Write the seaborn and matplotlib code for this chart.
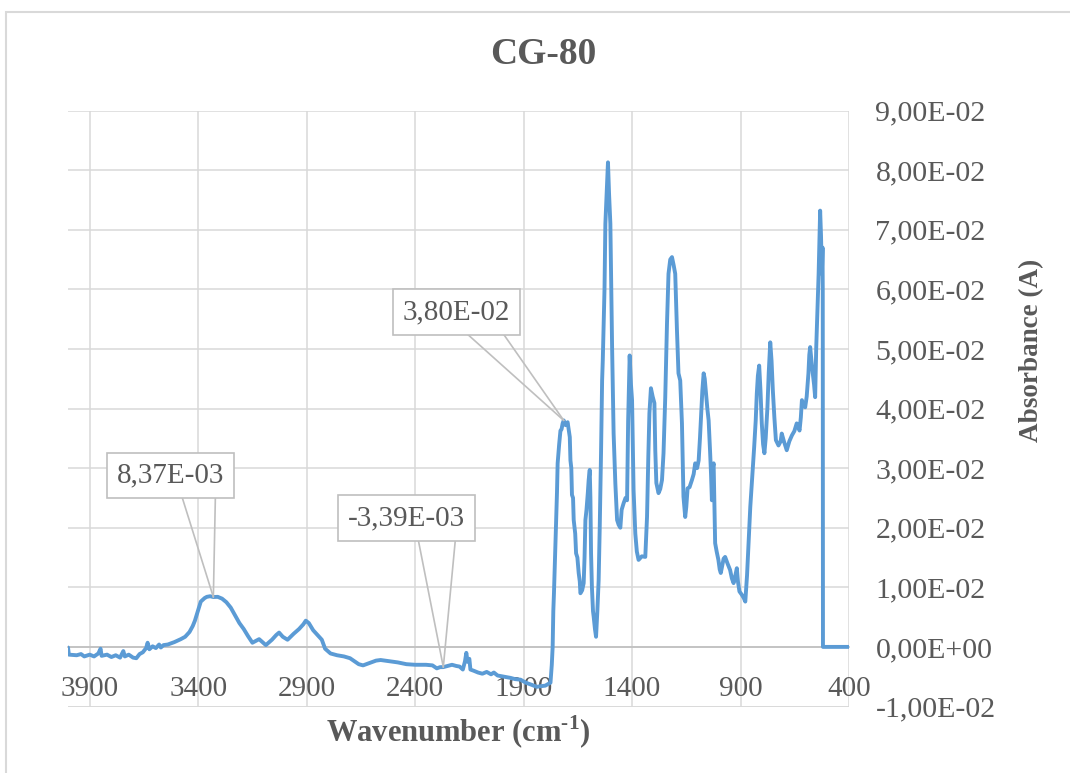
import matplotlib
matplotlib.use("Agg")
import matplotlib.pyplot as plt
import matplotlib.ticker as mticker
from matplotlib.patches import Rectangle
import seaborn as sns
import pandas as pd

# ---------------- data ----------------
wavenumber = [
    4000, 3996, 3960, 3940, 3925, 3900, 3880, 3860, 3850, 3845, 3820, 3800, 3780, 3760, 3745, 3738,
    3720, 3700, 3685, 3670, 3655, 3640, 3633, 3625, 3610, 3595, 3580, 3572, 3560, 3540, 3510, 3480,
    3460, 3440, 3425, 3415, 3400, 3388, 3370, 3360, 3345, 3330, 3310, 3290, 3270, 3250, 3230, 3210,
    3190, 3170, 3150, 3135, 3119, 3100, 3088, 3060, 3040, 3027, 3010, 2988, 2960, 2935, 2915, 2904,
    2890, 2870, 2850, 2830, 2815, 2790, 2760, 2728, 2700, 2680, 2660, 2640, 2610, 2580, 2559, 2520,
    2480, 2440, 2400, 2350, 2320, 2300, 2285, 2270, 2250, 2230, 2210, 2195, 2180, 2170, 2164, 2158,
    2150, 2145, 2130, 2110, 2090, 2070, 2050, 2037, 2020, 1990, 1960, 1940, 1914, 1890, 1860, 1840,
    1822, 1800, 1785, 1776, 1770, 1766, 1763, 1760, 1755, 1749, 1746, 1743, 1736, 1730, 1725, 1720,
    1715, 1706, 1697, 1690, 1687, 1684, 1680, 1677, 1672, 1669, 1662, 1658, 1652, 1646, 1641, 1638,
    1630, 1623, 1619, 1615, 1610, 1604, 1600, 1595, 1592, 1589, 1585, 1580, 1577, 1571, 1566, 1560,
    1554, 1549, 1543, 1538, 1535, 1531, 1527, 1523, 1517, 1511, 1506, 1500, 1496, 1492, 1485, 1477,
    1469, 1462, 1454, 1448, 1439, 1430, 1423, 1418, 1411, 1405, 1400, 1393, 1385, 1378, 1370, 1355,
    1339, 1331, 1325, 1320, 1313, 1305, 1297, 1293, 1288, 1278, 1270, 1262, 1255, 1247, 1239, 1232,
    1224, 1216, 1208, 1201, 1193, 1186, 1178, 1170, 1163, 1155, 1150, 1144, 1135, 1124, 1116, 1109,
    1100, 1093, 1087, 1082, 1076, 1070, 1065, 1059, 1053, 1047, 1043, 1040, 1036, 1032, 1028, 1024,
    1021, 1017, 1010, 1002, 996, 991, 985, 978, 971, 960, 948, 940, 932, 925, 917, 912,
    905, 895, 885, 878, 870, 862, 855, 846, 837, 830, 825, 820, 814, 808, 802, 796,
    790, 784, 776, 770, 763, 757, 751, 744, 737, 725, 715, 710, 700, 687, 675, 663,
    652, 641, 635, 628, 622, 617, 610, 602, 595, 587, 583, 579, 573, 567, 561, 556,
    551, 546, 540, 536, 533, 529, 525, 522, 521, 520, 400,
]
absorbance = [
    -0.0001, -0.0013, -0.0014, -0.0012, -0.0016, -0.0013, -0.0016, -0.0011, -0.0003, -0.0015, -0.0013, -0.0017, -0.0014, -0.0018, -0.0007, -0.0016,
    -0.0013, -0.0018, -0.0019, -0.0012, -0.0009, -0.0002, 0.0007, -0.0004, 0.0001, -0.0002, 0.0004, -0.0001, 0.0003, 0.0004, 0.0008, 0.0013,
    0.0017, 0.0025, 0.0035, 0.0044, 0.0062, 0.0076, 0.0082, 0.0084, 0.0085, 0.00837, 0.0084, 0.0081, 0.0075, 0.0066, 0.0053, 0.0040,
    0.0030, 0.0018, 0.0007, 0.0010, 0.0013, 0.0007, 0.0003, 0.0012, 0.0020, 0.0024, 0.0017, 0.0012, 0.0022, 0.0030, 0.0038, 0.0044,
    0.0040, 0.0028, 0.0020, 0.0012, -0.0003, -0.0011, -0.0014, -0.0016, -0.0019, -0.0024, -0.0029, -0.0031, -0.0027, -0.0023, -0.0022, -0.0024,
    -0.0026, -0.0029, -0.0030, -0.0030, -0.0031, -0.0036, -0.0034, -0.00339, -0.0032, -0.0030, -0.0032, -0.0033, -0.0038, -0.0024, -0.0010, -0.0025,
    -0.0020, -0.0038, -0.0040, -0.0043, -0.0045, -0.0042, -0.0046, -0.0043, -0.0048, -0.0050, -0.0052, -0.0054, -0.0055, -0.0060, -0.0064, -0.0067,
    -0.0066, -0.0065, -0.0062, -0.0060, -0.0030, 0.0000, 0.0060, 0.0090, 0.0150, 0.0218, 0.0260, 0.0308, 0.0340, 0.0363, 0.0365, 0.0375,
    0.0380, 0.0372, 0.0377, 0.0360, 0.0352, 0.0313, 0.0300, 0.0255, 0.0250, 0.0213, 0.0190, 0.0157, 0.0150, 0.0124, 0.0110, 0.0090,
    0.0095, 0.0107, 0.0150, 0.0213, 0.0230, 0.0258, 0.0280, 0.0297, 0.0250, 0.0157, 0.0100, 0.0060, 0.0051, 0.0030, 0.0017, 0.0060,
    0.0112, 0.0200, 0.0325, 0.0447, 0.0480, 0.0537, 0.0600, 0.0710, 0.0760, 0.0813, 0.0760, 0.0710, 0.0600, 0.0503, 0.0358, 0.0274,
    0.0213, 0.0205, 0.0200, 0.0230, 0.0241, 0.0250, 0.0246, 0.0380, 0.0489, 0.0440, 0.0414, 0.0263, 0.0190, 0.0160, 0.0146, 0.0152,
    0.0151, 0.0218, 0.0320, 0.0392, 0.0434, 0.0420, 0.0409, 0.0330, 0.0275, 0.0258, 0.0265, 0.0280, 0.0325, 0.0419, 0.0542, 0.0626,
    0.0650, 0.0654, 0.0640, 0.0626, 0.0531, 0.0459, 0.0447, 0.0375, 0.0252, 0.0218, 0.0235, 0.0266, 0.0268, 0.0280, 0.0290, 0.0308,
    0.0300, 0.0313, 0.0350, 0.0386, 0.0430, 0.0459, 0.0450, 0.0425, 0.0400, 0.0380, 0.0350, 0.0325, 0.0290, 0.0246, 0.0300, 0.0308,
    0.0250, 0.0174, 0.0160, 0.0146, 0.0130, 0.0124, 0.0135, 0.0148, 0.0151, 0.0140, 0.0129, 0.0115, 0.0107, 0.0118, 0.0132, 0.0110,
    0.0093, 0.0088, 0.0082, 0.0076, 0.0120, 0.0180, 0.0235, 0.0285, 0.0336, 0.0380, 0.0425, 0.0455, 0.0472, 0.0430, 0.0375, 0.0340,
    0.0325, 0.0350, 0.0402, 0.0460, 0.0511, 0.0480, 0.0430, 0.0385, 0.0347, 0.0338, 0.0345, 0.0358, 0.0345, 0.0330, 0.0345, 0.0355,
    0.0362, 0.0375, 0.0370, 0.0363, 0.0385, 0.0414, 0.0405, 0.0402, 0.0420, 0.0459, 0.0490, 0.0503, 0.0480, 0.0459, 0.0440, 0.0419,
    0.0503, 0.0560, 0.0626, 0.0690, 0.0732, 0.0690, 0.0626, 0.0670, 0.0600, 0.0000, 0.0000,
]

x_ticks = [3900, 3400, 2900, 2400, 1900, 1400, 900, 400]
y_ticks = [-0.01, 0.0, 0.01, 0.02, 0.03, 0.04, 0.05, 0.06, 0.07, 0.08, 0.09]

# annotated points (wavenumber) and their labels
annot_x = [3330, 2270, 1715]
annot_labels = ["8,37E-03", "-3,39E-03", "3,80E-02"]

title = "CG-80"
x_label = r"Wavenumber (cm$^{\mathbf{\text{-}1}}$)"
y_label = "Absorbance (A)"

# ---------------- style ----------------
sns.set_theme(style="white")
plt.rcParams["font.family"] = ["Liberation Serif", "DejaVu Serif"]
plt.rcParams["mathtext.fontset"] = "custom"
plt.rcParams["mathtext.rm"] = "Liberation Serif"
plt.rcParams["mathtext.bf"] = "Liberation Serif:bold"

TXT = "#595959"
GRID = "#d9d9d9"
LINE = "#5b9bd5"

fig = plt.figure(figsize=(10.7, 7.73), dpi=100)
ax = fig.add_axes([68 / 1070, 1 - 706.5 / 773, (849 - 68) / 1070, (706.5 - 110.5) / 773])

df = pd.DataFrame({"wavenumber": wavenumber, "absorbance": absorbance})
sns.lineplot(data=df, x="wavenumber", y="absorbance", sort=False, estimator=None,
             color=LINE, linewidth=2.8, ax=ax, zorder=3)

ax.set_xlim(4000, 400)
ax.set_ylim(-0.01, 0.09)
ax.set_xticks(x_ticks)
ax.set_yticks(y_ticks)
ax.yaxis.set_major_formatter(mticker.FuncFormatter(lambda v, p: f"{v:.2E}".replace(".", ",")))
ax.xaxis.set_major_formatter(mticker.FuncFormatter(lambda v, p: f"{int(round(v))}"))

ax.grid(True, color=GRID, linewidth=1.1, zorder=0)
ax.set_axisbelow(True)
for s in ["left", "right", "top"]:
    ax.spines[s].set_visible(False)
ax.spines["bottom"].set_position(("data", 0))
ax.spines["bottom"].set_color("#bfbfbf")
ax.spines["bottom"].set_linewidth(1.2)
ax.spines["bottom"].set_zorder(1)
ax.axhline(-0.01, color=GRID, linewidth=1.1, zorder=0)

ax.yaxis.tick_right()
ax.tick_params(axis="y", length=0, pad=19, labelsize=21.5, labelcolor=TXT)
ax.tick_params(axis="x", length=0, pad=21, labelsize=21, labelcolor=TXT)
ax.set_xlabel("")
ax.set_ylabel("")

# annotations (callouts)
box_off = [(-43, 121.5), (-37, 149), (-107, 108.5)]
leg_off = [((-31, 99), (2, 99)), ((-25, 127), (12, 127)), ((-96, 86), (-60, 86))]
for xv, lab, bo, lo in zip(annot_x, annot_labels, box_off, leg_off):
    yv = absorbance[wavenumber.index(xv)]
    for o in lo:
        ax.annotate("", xy=(xv, yv), xytext=o, textcoords="offset pixels",
                    arrowprops=dict(arrowstyle="-", color="#bfbfbf", lw=1.2,
                                    shrinkA=0, shrinkB=0), zorder=4)
    ax.annotate(lab, xy=(xv, yv), xytext=bo, textcoords="offset pixels",
                ha="center", va="center", fontsize=21, color=TXT, zorder=5,
                bbox=dict(boxstyle="square,pad=0.33", fc="white", ec="#bfbfbf", lw=1.2))

fig.text(543 / 1070, 1 - 55 / 773, title, ha="center", va="center",
         fontsize=27, fontweight="bold", color=TXT)
fig.text(458 / 1070, 1 - 732 / 773, x_label, ha="center", va="center",
         fontsize=22, fontweight="bold", color=TXT)
fig.text(1032 / 1070, 1 - 350 / 773, y_label, ha="center", va="center", rotation=90,
         fontsize=19.5, fontweight="bold", color=TXT)

fig.patches.append(Rectangle((6 / 1070, -0.1), 1.2, 1.1 - 12 / 773, transform=fig.transFigure,
                             fill=False, ec=GRID, lw=1.5))

fig.savefig("out.png", dpi=100)
